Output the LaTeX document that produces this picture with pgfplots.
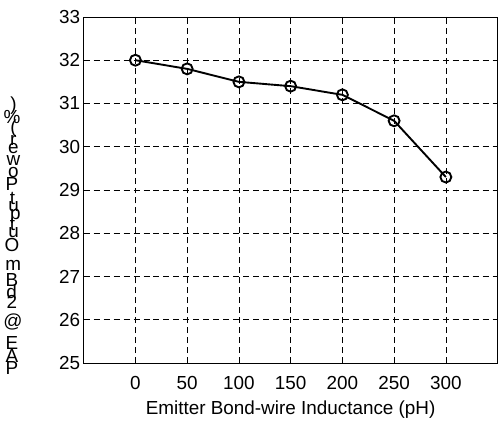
\documentclass[border=0pt]{standalone}
\usepackage{fontspec}
\setmainfont{Liberation Sans}
\usepackage{graphicx}
\usepackage{pgfplots}
\pgfplotsset{compat=1.18}

% upright glyph stacked along a rotated label
\newlength{\ucw}
\newcommand{\uc}[1]{\settowidth{\ucw}{#1}\makebox[\ucw][c]{\rotatebox[origin=c]{-90}{#1}}}

\begin{document}
\begin{tikzpicture}
\begin{axis}[
scale only axis,
width=415bp,height=347bp,
xmin=-50,xmax=350,ymin=25,ymax=33,
xtick={0,50,...,300},ytick={25,26,...,33},
grid=major,
major grid style={dash pattern=on 6bp off 4bp,black,line width=0.6pt},
axis line style={line width=0.8pt},
tick align=inside,
tick style={black,line width=0.6pt},
major tick length=4bp,
/pgf/number format/assume math mode=true,
tick label style={font=\fontsize{19}{22}\selectfont},
xticklabel style={yshift=-10bp},
label style={font=\fontsize{19}{22}\selectfont},
xlabel={Emitter Bond-wire Inductance (pH)},
xlabel style={yshift=-4bp},
ylabel={\uc{P}\uc{A}\uc{E}\hspace{0.28em}\uc{@}\hspace{0.28em}\uc{2}\uc{d}\uc{B}\uc{m}\hspace{0.28em}\uc{O}\uc{u}\uc{t}\uc{p}\uc{u}\uc{t}\hspace{0.28em}\uc{P}\uc{o}\uc{w}\uc{e}\uc{r}\hspace{0.28em}\uc{(}\uc{\%}\uc{)}},
ylabel style={at={(rel axis cs:-0.171,0.36)},anchor=center},
]
\addplot[black,line width=1.9pt,mark=o,mark size=5.5bp,mark options={line width=1.9pt}]
coordinates {(0,32.0)(50,31.8)(100,31.5)(150,31.4)(200,31.2)(250,30.6)(300,29.3)};
\end{axis}
% room above the axis, as in the reference
\path ([yshift=17bp]current axis.north);
\end{tikzpicture}
\end{document}
